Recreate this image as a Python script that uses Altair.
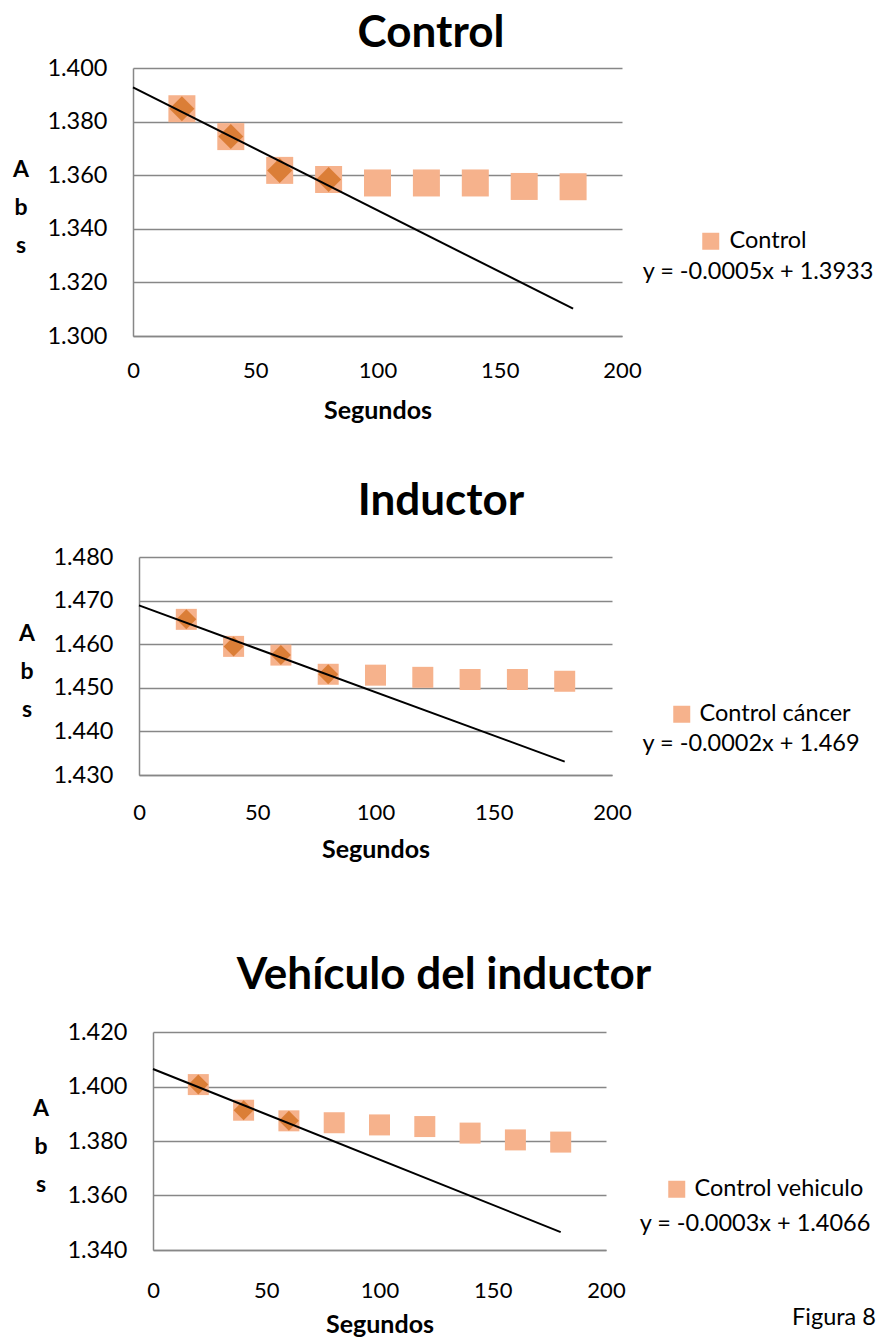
import altair as alt
import pandas as pd

# Tiempo de lectura (s)
segundos = [20, 40, 60, 80, 100, 120, 140, 160, 180]

# Absorbancia medida en cada condición
abs_control = [1.3848, 1.3744, 1.3618, 1.3584, 1.3571, 1.3571, 1.3571, 1.3558, 1.3557]
abs_inductor = [1.4657, 1.4595, 1.4575, 1.4531, 1.4529, 1.4524, 1.4519, 1.4519, 1.4515]
abs_vehiculo = [1.4007, 1.3913, 1.3874, 1.3867, 1.3859, 1.3853, 1.3829, 1.3804, 1.3796]

# Puntos iniciales que entran en el ajuste lineal de cada gráfico
n_ajuste = [4, 4, 3]

titulos = ["Control", "Inductor", "Vehículo del inductor"]
series = ["Control", "Control cáncer", "Control vehiculo"]
ecuaciones = ["y = -0.0005x + 1.3933", "y = -0.0002x + 1.469", "y = -0.0003x + 1.4066"]

y_ticks = [
    [1.300, 1.320, 1.340, 1.360, 1.380, 1.400],
    [1.430, 1.440, 1.450, 1.460, 1.470, 1.480],
    [1.340, 1.360, 1.380, 1.400, 1.420],
]
x_ticks = [0, 50, 100, 150, 200]
nota = "Figura 8"

FUENTE = "Lato"
GRIS = "#878787"
SALMON = "#F6B28C"
NARANJA = "#D8782E"
ALTO_FILA = 446
MARGEN_EJE = 121  # espacio a la izquierda del área de trazado
T_EJE = 22      # números del eje x
T_EJE_Y = 23.5  # números del eje y
T_TEXTO = 23.5  # leyenda, ecuaciones y nota
T_TITULO_EJE = 25

# Colocación de cada gráfico en la página (px)
GEOM = [
    dict(left=133, top=68, w=489, h=268, sq=729, dia=625, title=(431, 47),
         leg=(702, 229.5, 7), eq=(758, 279), lab_pad=24),
    dict(left=139, top=557, w=473, h=218, sq=441, dia=400, title=(441, 515),
         leg=(673, 702.5, 6), eq=(751, 751), lab_pad=27),
    dict(left=153, top=1032, w=453, h=218, sq=441, dia=400, title=(444, 989),
         leg=(668, 1177.5, 6), eq=(755, 1231), lab_pad=30),
]


def texto(contenido, x, y, size, weight="normal"):
    return alt.Chart(pd.DataFrame({"t": [contenido]})).mark_text(
        font=FUENTE, fontSize=size, fontWeight=weight, color="black",
        align="center", baseline="alphabetic",
    ).encode(text="t:N", x=alt.value(x), y=alt.value(y))


def hueco(ancho):
    # columna vacía que desplaza el gráfico hacia la derecha
    return alt.Chart(pd.DataFrame({"a": [0]})).mark_rule(strokeOpacity=0).encode(
        x=alt.value(0), x2=alt.value(ancho), y=alt.value(0)
    ).properties(width=ancho, height=1)


def panel(i, valores):
    g = GEOM[i]
    L, T, W, H = g["left"], g["top"], g["w"], g["h"]
    fila = ALTO_FILA * i

    datos = pd.DataFrame({"segundos": segundos, "abs": valores, "serie": series[i]})
    ajuste = datos.head(n_ajuste[i])

    xs = alt.Scale(domain=[0, 200], nice=False, zero=False)
    ys = alt.Scale(domain=[y_ticks[i][0], y_ticks[i][-1]], nice=False, zero=False)

    x = alt.X(
        "segundos:Q", scale=xs,
        axis=alt.Axis(
            values=x_ticks, grid=False, ticks=False, tickSize=0,
            labelPadding=g["lab_pad"], labelFont=FUENTE, labelFontSize=T_EJE,
            labelColor="black", labelFlush=False,
            domainColor=GRIS, domainWidth=1.5,
            title="Segundos", titleFont=FUENTE, titleFontSize=T_TITULO_EJE,
            titleFontWeight="bold", titleColor="black",
            titleY=82, titleBaseline="alphabetic",
        ),
    )
    y = alt.Y(
        "abs:Q", scale=ys,
        axis=alt.Axis(
            values=y_ticks[i], format=".3f", grid=True, gridColor=GRIS,
            gridWidth=1.5, ticks=False, tickSize=0, labelPadding=26,
            labelFont=FUENTE, labelFontSize=T_EJE_Y, labelColor="black",
            labelFlush=False, domainColor=GRIS, domainWidth=1.5,
            title=["A", "b", "s"], titleAngle=0, titleAlign="center",
            titleBaseline="alphabetic", titleX=-112.5, titleY=H / 2 - 26,
            titleLineHeight=38, titleFont=FUENTE, titleFontSize=23,
            titleFontWeight="bold", titleColor="black",
        ),
    )

    # reserva el alto de la fila y el margen izquierdo
    marco = alt.Chart(pd.DataFrame({"a": [0]})).mark_rule(strokeOpacity=0).encode(
        x=alt.value(-MARGEN_EJE), y=alt.value(fila - T),
        y2=alt.value(fila + ALTO_FILA - T),
    )

    # la leyenda se coloca respecto al borde izquierdo de la fila
    lx, ly, loff = g["leg"]
    cuadros = alt.Chart(datos).mark_point(
        shape="square", filled=True, size=g["sq"], opacity=1
    ).encode(
        x=x, y=y,
        color=alt.Color(
            "serie:N", scale=alt.Scale(range=[SALMON]),
            legend=alt.Legend(
                title=None, orient="none", legendX=lx - 3, legendY=ly - T,
                symbolType="square", symbolSize=289, symbolStrokeWidth=0,
                symbolOpacity=1, labelFont=FUENTE, labelFontSize=T_TEXTO,
                labelColor="black", labelOffset=loff, labelLimit=400, padding=0,
            ),
        ),
    )
    rombos = alt.Chart(ajuste).mark_point(
        shape="diamond", filled=True, size=g["dia"], color=NARANJA, opacity=0.9
    ).encode(x=x, y=y)
    tendencia = alt.Chart(ajuste).transform_regression(
        "segundos", "abs", extent=[0, 180]
    ).mark_line(color="black", strokeWidth=2).encode(x=x, y=y)

    tx, ty = g["title"]
    ex, ey = g["eq"]
    capas = [
        marco, cuadros, rombos, tendencia,
        texto(titulos[i], tx - L, ty - T, 44, "bold"),
        texto(ecuaciones[i], ex - L, ey - T, T_TEXTO),
    ]
    if i == 2:
        capas.append(texto(nota, 834 - L, 1325 - T, T_TEXTO))
    grafico = alt.layer(*capas).properties(width=W, height=H)
    return alt.hconcat(hueco(L - MARGEN_EJE), grafico, spacing=0)


chart = (
    alt.vconcat(
        panel(0, abs_control), panel(1, abs_inductor), panel(2, abs_vehiculo),
        spacing=0,
    )
    .resolve_scale(color="independent")
    .resolve_legend(color="independent")
    .properties(padding=0, background="white")
    .configure_view(stroke=None)
)

chart.save("out.html", embed_options={"renderer": "svg", "actions": False})
